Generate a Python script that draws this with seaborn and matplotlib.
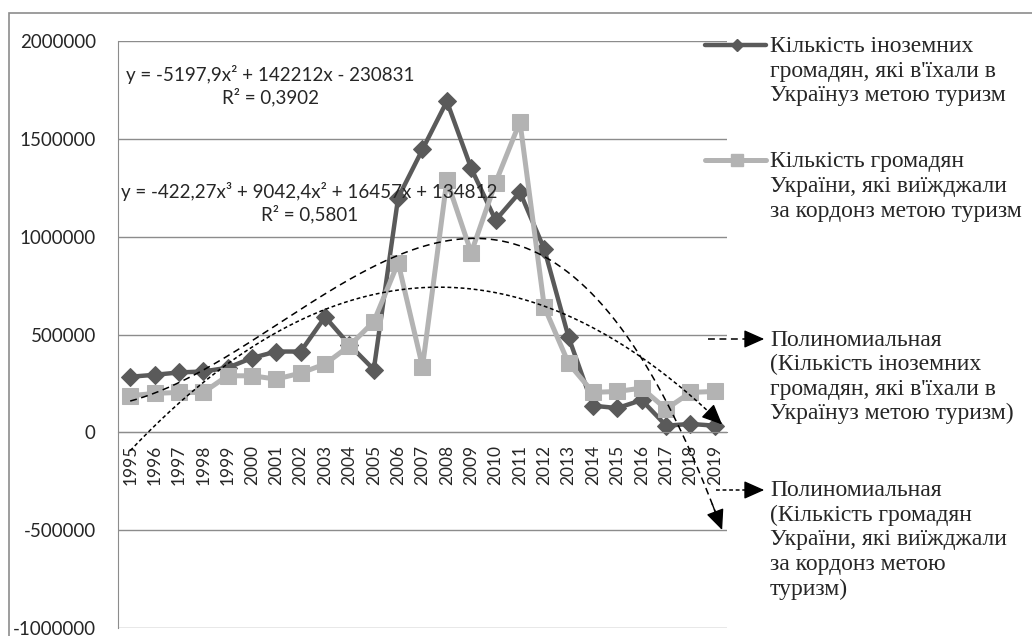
import numpy as np
import pandas as pd
import matplotlib.pyplot as plt
import seaborn as sns
from matplotlib.lines import Line2D
from matplotlib.patches import Rectangle, FancyArrowPatch
from matplotlib.ticker import FuncFormatter, FixedLocator

# data
years = list(range(1995, 2020))
foreign = [284000, 294000, 306000, 311000, 330000, 380000, 413000, 413000, 590000, 447000,
           321000, 1199000, 1446000, 1692000, 1349000, 1084000, 1228000, 936000, 485000,
           136000, 124000, 165000, 34000, 43000, 34000]
citizens = [187000, 199000, 204000, 204000, 289000, 289000, 272000, 303000, 349000, 442000,
            566000, 867000, 335000, 1288000, 918000, 1276000, 1587000, 641000, 352000,
            204000, 209000, 226000, 119000, 204000, 209000]

# trend coefficients as printed on the chart (x = 1 for 1995)
cubic_coef = [-422.27, 9042.4, 16457, 134812]
quad_coef = [-5197.9, 142212, -230831]

eq_quad = "y = -5197,9x² + 142212x - 230831\nR² = 0,3902"
eq_cubic = "y = -422,27x³ + 9042,4x² + 16457x + 134812\nR² = 0,5801"

labels = ["Кількість іноземних\nгромадян, які в'їхали в\nУкраїнуз метою туризм",
          "Кількість громадян\nУкраїни, які виїжджали\nза кордонз метою туризм",
          "Полиномиальная\n(Кількість іноземних\nгромадян, які в'їхали в\nУкраїнуз метою туризм)",
          "Полиномиальная\n(Кількість громадян\nУкраїни, які виїжджали\nза кордонз метою\nтуризм)"]

dark = '#5a5a5a'
light = '#b3b3b3'
grid = '#8c8c8c'

sns.set_style('white')
plt.rcParams['font.family'] = ['Lato', 'DejaVu Sans']

W, H = 1032, 636
fig = plt.figure(figsize=(W / 100, H / 100), dpi=100)
fx = lambda px: px / W
fy = lambda py: 1 - py / H

ax = fig.add_axes([fx(118), fy(628), fx(727) - fx(118), fy(41) - fy(628)])

df = pd.DataFrame({'year': years, 'foreign': foreign, 'citizens': citizens})
sns.lineplot(data=df, x='year', y='foreign', color=dark, lw=3.2, marker='D', markersize=9,
             markeredgecolor=dark, ax=ax)
sns.lineplot(data=df, x='year', y='citizens', color=light, lw=3.6, marker='s', markersize=11,
             markeredgecolor=light, ax=ax)

# trendlines with arrow ends
xs = np.linspace(1, 25.3, 300)
for coef, dash in [(cubic_coef, (0, (4.5, 3))), (quad_coef, (0, (2.5, 1.8)))]:
    ys = np.polyval(coef, xs)
    ax.plot(xs + 1994, ys, color='black', lw=1.1, linestyle=dash, zorder=5)
    ax.annotate('', xy=(xs[-1] + 1994, ys[-1]), xytext=(xs[-6] + 1994, ys[-6]),
                arrowprops=dict(arrowstyle='-|>,head_length=0.9,head_width=0.4', color='black',
                                lw=1, shrinkA=0, shrinkB=0, mutation_scale=14), zorder=6)

ax.text(2000.76, 1771000, eq_quad, ha='center', va='center', multialignment='center', fontsize=13.5)
ax.text(2002.36, 1174000, eq_cubic, ha='center', va='center', multialignment='center', fontsize=13.5)

ax.set_xlim(1994.5, 2019.5)
ax.set_ylim(-1000000, 2000000)
ax.set_yticks(np.arange(-1000000, 2000001, 500000))
ax.yaxis.set_major_formatter(FuncFormatter(lambda v, _: f'{int(v)}'))
ax.set_xticks(years)
ax.set_xticklabels([str(y) for y in years])
ax.xaxis.set_minor_locator(FixedLocator(np.arange(1994.5, 2020, 1)))
ax.tick_params(axis='x', which='major', length=0, pad=9, labelrotation=90, labelsize=12.5)
ax.tick_params(axis='x', which='minor', length=5.5, width=1, color=grid, direction='out')
ax.tick_params(axis='y', length=5, width=1, color=grid, direction='out', pad=11, labelsize=13.5)
ax.set_xlabel('')
ax.set_ylabel('')
ax.grid(axis='y', color=grid, lw=1)
ax.set_axisbelow(True)
for s in ['top', 'right']:
    ax.spines[s].set_visible(False)
ax.spines['left'].set_color(grid)
ax.spines['bottom'].set_color(grid)
ax.spines['bottom'].set_position(('data', 0))

# chart area border
fig.add_artist(Rectangle((fx(9), -0.1), 1.2, fy(13) + 0.1, fill=False, ec=grid, lw=1.2,
                         transform=fig.transFigure))

# legend drawn by hand on the right, one text per line
serif = 'Liberation Serif'
def leg_text(py, s):
    for i, line in enumerate(s.split('\n')):
        fig.text(fx(770), fy(py + 5.5 + i * 24.5), line, ha='left', va='baseline',
                 fontsize=17, family=serif)

fig.add_artist(Line2D([fx(705), fx(766)], [fy(45)] * 2, color=dark, lw=3.2, transform=fig.transFigure))
fig.add_artist(Line2D([fx(737)], [fy(45)], marker='D', ms=6, color=dark, transform=fig.transFigure))
fig.add_artist(Line2D([fx(705), fx(766)], [fy(160)] * 2, color=light, lw=3.6, transform=fig.transFigure))
fig.add_artist(Line2D([fx(737)], [fy(160)], marker='s', ms=8, color=light, transform=fig.transFigure))
for py, dash, x0 in [(339, (0, (4.5, 3)), 708), (490, (0, (2.5, 1.8)), 716)]:
    fig.add_artist(Line2D([fx(x0), fx(756)], [fy(py)] * 2, color='black', lw=1.1, linestyle=dash,
                          transform=fig.transFigure))
    fig.add_artist(FancyArrowPatch((fx(752), fy(py)), (fx(767), fy(py)), transform=fig.transFigure,
                                   arrowstyle='-|>,head_length=0.9,head_width=0.4', mutation_scale=14,
                                   color='black', lw=1))

leg_text(47, labels[0])
leg_text(162, labels[1])
leg_text(340, labels[2])
leg_text(491, labels[3])

fig.savefig('out.png', dpi=100)
